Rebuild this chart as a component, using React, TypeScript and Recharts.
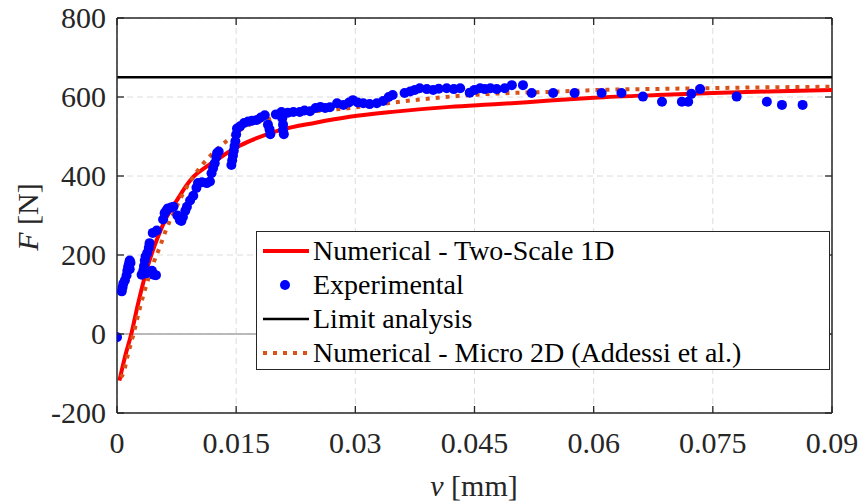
import React from 'react';
import {
  ComposedChart,
  Line,
  Scatter,
  XAxis,
  YAxis,
  CartesianGrid,
  ReferenceLine,
  Legend
} from 'recharts';

// v [mm], F [N]
const EXPERIMENTAL: [number, number][] = [
  [0.0, -8],
  [0.0006, 108], [0.0007, 118], [0.0008, 128], [0.001, 136], [0.0012, 148],
  [0.0013, 160], [0.0014, 170], [0.0015, 178], [0.0016, 186], [0.0017, 180], [0.0016, 164],
  [0.0031, 150], [0.0033, 160], [0.0034, 172], [0.0035, 186], [0.0036, 196], [0.0037, 154],
  [0.0038, 205], [0.004, 218], [0.0041, 230], [0.0044, 160], [0.0046, 150], [0.0049, 149],
  [0.0045, 256], [0.005, 262],
  [0.0058, 290], [0.006, 306], [0.0062, 312], [0.0064, 318], [0.0068, 320], [0.0071, 322],
  [0.0076, 300], [0.0079, 289], [0.0081, 286], [0.0083, 296], [0.0086, 312], [0.0088, 322],
  [0.0092, 338], [0.0096, 350], [0.01, 370], [0.0102, 382], [0.0107, 384], [0.0113, 382],
  [0.0117, 386], [0.0119, 407], [0.0121, 420], [0.0123, 432], [0.0125, 448], [0.0126, 458], [0.0128, 462],
  [0.0144, 428], [0.0145, 440], [0.0146, 452], [0.0147, 464], [0.0148, 476], [0.0149, 488],
  [0.015, 505], [0.0151, 520], [0.0155, 526], [0.016, 534], [0.0165, 538], [0.017, 540],
  [0.0176, 542], [0.0181, 548], [0.0186, 554], [0.019, 530], [0.0192, 518], [0.0193, 506],
  [0.02, 556], [0.0207, 562], [0.0208, 546], [0.0209, 530], [0.0209, 516], [0.021, 506],
  [0.0215, 560], [0.0222, 562], [0.023, 562], [0.0236, 566], [0.0243, 564], [0.025, 572],
  [0.0256, 575], [0.0262, 572], [0.0268, 574], [0.0277, 584], [0.0285, 580], [0.0292, 586],
  [0.0297, 592], [0.0303, 586], [0.031, 584], [0.0318, 582], [0.0327, 584], [0.0335, 590],
  [0.0342, 600], [0.0347, 605], [0.0362, 610], [0.0369, 614], [0.0375, 618], [0.0381, 622],
  [0.039, 620], [0.0398, 618], [0.0405, 621], [0.0415, 622], [0.0424, 620], [0.0432, 622],
  [0.0444, 611], [0.045, 618], [0.0457, 622], [0.0463, 620], [0.047, 622], [0.0478, 620],
  [0.0488, 622], [0.0497, 630], [0.0511, 630], [0.0522, 610], [0.0549, 610], [0.0576, 610],
  [0.061, 610], [0.0635, 610], [0.0662, 601], [0.0686, 588], [0.0711, 588], [0.0719, 588],
  [0.0723, 608], [0.0734, 620], [0.078, 601], [0.0818, 588], [0.0837, 580], [0.0863, 580]
];

const TWO_SCALE_1D: [number, number][] = [
  [0.0003, -118], [0.001, -58], [0.0018, 0], [0.0026, 72], [0.0033, 130], [0.004, 180],
  [0.0047, 222], [0.0055, 263], [0.0063, 298], [0.0071, 325], [0.0079, 350], [0.0087, 375],
  [0.0096, 398], [0.011, 420], [0.0125, 440], [0.014, 460], [0.0155, 477], [0.0175, 495],
  [0.0205, 516], [0.025, 535], [0.0293, 550], [0.035, 563], [0.0419, 575], [0.048, 582],
  [0.0545, 591], [0.06, 598], [0.068, 605], [0.075, 610], [0.082, 614], [0.09, 618]
];

const MICRO_2D: [number, number][] = [
  [0.0005, -110], [0.0008, -99], [0.0014, -50], [0.0021, 2], [0.003, 75], [0.0039, 137],
  [0.0046, 180], [0.0054, 221], [0.0062, 265], [0.0071, 305], [0.0083, 355], [0.0096, 398],
  [0.011, 435], [0.0125, 466], [0.014, 492], [0.0155, 516], [0.0167, 530], [0.0188, 542],
  [0.023, 559], [0.0293, 572], [0.0356, 588], [0.0419, 601], [0.048, 609], [0.0545, 613],
  [0.061, 618], [0.07, 621], [0.08, 624], [0.09, 626]
];

const LIMIT_ANALYSIS = 650;

const X_TICKS = [0, 0.015, 0.03, 0.045, 0.06, 0.075, 0.09];
const X_TICK_LABELS = ['0', '0.015', '0.03', '0.045', '0.06', '0.075', '0.09'];
const Y_TICKS = [-200, 0, 200, 400, 600, 800];
const Y_TICK_LABELS = ['-200', '0', '200', '400', '600', '800'];

const LEGEND_ITEMS = [
  { name: 'Numerical - Two-Scale 1D', kind: 'line', color: '#ff0000' },
  { name: 'Experimental', kind: 'dot', color: '#0000ff' },
  { name: 'Limit analysis', kind: 'line', color: '#000000' },
  { name: 'Numerical - Micro 2D (Addessi et al.)', kind: 'dotted', color: '#d95319' }
];

const toRows = (pts: [number, number][]) => pts.map(([v, F]) => ({ v, F }));

const W = 861;
const H = 502;
const PLOT_TOP = 18;
const PLOT_BOTTOM = 413;
const PLOT_LEFT = 117;
const PLOT_RIGHT = 832;
const FONT = '"Liberation Serif", "Times New Roman", serif';
const AXIS_COLOR = '#262626';
const TICK_LEN = 7;

const XTick = (props: any) => {
  const { x, payload, index } = props;
  return (
    <g>
      <line x1={x} x2={x} y1={PLOT_BOTTOM} y2={PLOT_BOTTOM - TICK_LEN} stroke={AXIS_COLOR} strokeWidth={1.3} />
      <line x1={x} x2={x} y1={PLOT_TOP} y2={PLOT_TOP + TICK_LEN} stroke={AXIS_COLOR} strokeWidth={1.3} />
      <text x={x} y={453} textAnchor="middle" fontFamily={FONT} fontSize={30} fill={AXIS_COLOR}>
        {X_TICK_LABELS[index] ?? String(payload.value)}
      </text>
    </g>
  );
};

const YTick = (props: any) => {
  const { y, payload, index } = props;
  return (
    <g>
      <line x1={PLOT_LEFT} x2={PLOT_LEFT + TICK_LEN} y1={y} y2={y} stroke={AXIS_COLOR} strokeWidth={1.3} />
      <line x1={PLOT_RIGHT} x2={PLOT_RIGHT - TICK_LEN} y1={y} y2={y} stroke={AXIS_COLOR} strokeWidth={1.3} />
      <text x={106} y={y + 10} textAnchor="end" fontFamily={FONT} fontSize={30} fill={AXIS_COLOR}>
        {Y_TICK_LABELS[index] ?? String(payload.value)}
      </text>
    </g>
  );
};

const YLabel = () => (
  <text
    x={0}
    y={0}
    transform="translate(38, 217) rotate(-90)"
    textAnchor="middle"
    fontFamily={FONT}
    fontSize={30}
    fill={AXIS_COLOR}
  >
    <tspan fontStyle="italic">F</tspan>
    <tspan> [N]</tspan>
  </text>
);

const XLabel = () => (
  <text x={474} y={496} textAnchor="middle" fontFamily={FONT} fontSize={30} fill={AXIS_COLOR}>
    <tspan fontStyle="italic">v</tspan>
    <tspan> [mm]</tspan>
  </text>
);

const LegendBox = () => (
  <div
    style={{
      border: `1px solid ${AXIS_COLOR}`,
      background: '#ffffff',
      width: 572,
      height: 135,
      paddingTop: 2,
      boxSizing: 'content-box',
      fontFamily: FONT,
      fontSize: 28,
      color: '#000'
    }}
  >
    {LEGEND_ITEMS.map((item) => (
      <div key={item.name} style={{ display: 'flex', alignItems: 'center', height: 34 }}>
        <svg width={56} height={34} style={{ flex: 'none' }}>
          {item.kind === 'line' && (
            <line x1={6} x2={52} y1={17} y2={17} stroke={item.color} strokeWidth={item.color === '#000000' ? 2.5 : 4} />
          )}
          {item.kind === 'dotted' && (
            <line x1={6} x2={52} y1={17} y2={17} stroke={item.color} strokeWidth={4} strokeDasharray="4 6" />
          )}
          {item.kind === 'dot' && <circle cx={28} cy={17} r={5} fill={item.color} />}
        </svg>
        <span style={{ whiteSpace: 'nowrap', lineHeight: '34px' }}>{item.name}</span>
      </div>
    ))}
  </div>
);

const ExpDot = (props: any) => <circle cx={props.cx} cy={props.cy} r={5} fill="#0000ff" />;

export default function App() {
  return (
    <div style={{ position: 'absolute', left: 0, top: 0, background: '#fff' }}>
      <ComposedChart
        width={W}
        height={H}
        margin={{ top: PLOT_TOP, right: W - PLOT_RIGHT, bottom: H - PLOT_BOTTOM - 30, left: PLOT_LEFT - 60 }}
      >
        <CartesianGrid stroke="#dcdcdc" strokeDasharray="6 4" strokeWidth={1} />
        <XAxis
          dataKey="v"
          type="number"
          domain={[0, 0.09]}
          ticks={X_TICKS}
          height={30}
          tickLine={false}
          axisLine={{ stroke: AXIS_COLOR, strokeWidth: 1.5 }}
          tick={<XTick />}
          interval={0}
          allowDataOverflow
          label={<XLabel />}
        />
        <YAxis
          dataKey="F"
          type="number"
          domain={[-200, 800]}
          ticks={Y_TICKS}
          width={60}
          tickLine={false}
          axisLine={{ stroke: AXIS_COLOR, strokeWidth: 1.5 }}
          tick={<YTick />}
          interval={0}
          allowDataOverflow
          label={<YLabel />}
        />
        <ReferenceLine y={0} stroke="#a6a6a6" strokeWidth={1.3} />
        <ReferenceLine y={800} stroke={AXIS_COLOR} strokeWidth={1.5} />
        <ReferenceLine x={0.09} stroke={AXIS_COLOR} strokeWidth={1.5} />
        <ReferenceLine y={LIMIT_ANALYSIS} stroke="#000000" strokeWidth={2.5} />
        <Scatter
          name="Experimental"
          data={toRows(EXPERIMENTAL)}
          fill="#0000ff"
          shape={<ExpDot />}
          isAnimationActive={false}
        />
        <Line
          name="Numerical - Two-Scale 1D"
          data={toRows(TWO_SCALE_1D)}
          dataKey="F"
          type="monotone"
          stroke="#ff0000"
          strokeWidth={4}
          dot={false}
          activeDot={false}
          isAnimationActive={false}
        />
        <Line
          name="Numerical - Micro 2D (Addessi et al.)"
          data={toRows(MICRO_2D)}
          dataKey="F"
          type="monotone"
          stroke="#d95319"
          strokeWidth={4}
          strokeDasharray="4 6"
          dot={false}
          activeDot={false}
          isAnimationActive={false}
        />
        <Legend
          layout="vertical"
          align="center"
          verticalAlign="middle"
          content={<LegendBox />}
          wrapperStyle={{ left: 256, top: 231, width: 574 }}
        />
      </ComposedChart>
    </div>
  );
}
